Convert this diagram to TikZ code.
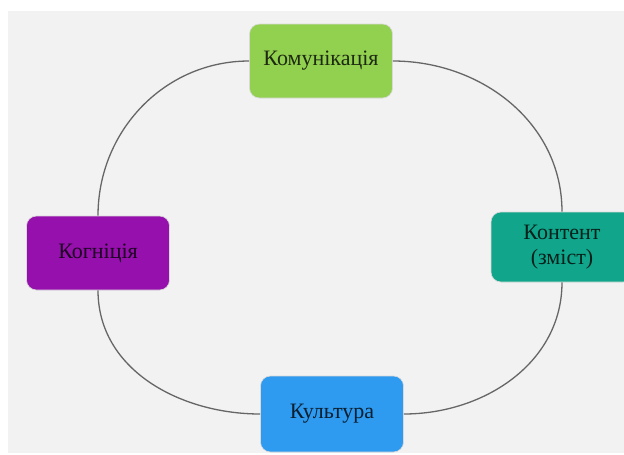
\documentclass[tikz,border=0pt]{standalone}
\usepackage{fontspec}
\setmainfont{Liberation Serif}
\definecolor{bg}{HTML}{F2F2F2}
\definecolor{cgreen}{HTML}{92D050}
\definecolor{cpurple}{HTML}{9510AC}
\definecolor{cteal}{HTML}{11A68B}
\definecolor{cblue}{HTML}{2E9BF0}
\definecolor{cline}{HTML}{666666}
\begin{document}
\begin{tikzpicture}[x=1pt,y=-1pt,
  box/.style={rounded corners=10pt, draw=white!70!gray, line width=0.6pt, minimum width=143pt, minimum height=74pt, align=center, font=\fontsize{22}{25}\selectfont\rmfamily, text=black, text opacity=0.8, inner sep=2pt},
  conn/.style={draw=cline, line width=1.3pt}]
\useasboundingbox (0,0) rectangle (624,455);
\fill[white] (0,0) rectangle (624,455);
\fill[bg] (8,11) rectangle (624,453);
\node[box, fill=cgreen] (kom) at (321,61) {Комунікація};
\node[box, fill=cpurple] (kog) at (98,253) {Когніція};
\node[box, fill=cteal, minimum width=142pt, minimum height=70pt] (kon) at (562,247) {Контент\\(зміст)};
\node[box, fill=cblue, minimum height=76pt] (kul) at (332,414) {Культура};
\draw[conn] (kom.west) to[out=180,in=90] (kog.north);
\draw[conn] (kom.east) to[out=0,in=90] (kon.north);
\draw[conn] (kog.south) to[out=-90,in=180] (kul.west);
\draw[conn] (kon.south) to[out=-90,in=0] (kul.east);
\end{tikzpicture}
\end{document}
